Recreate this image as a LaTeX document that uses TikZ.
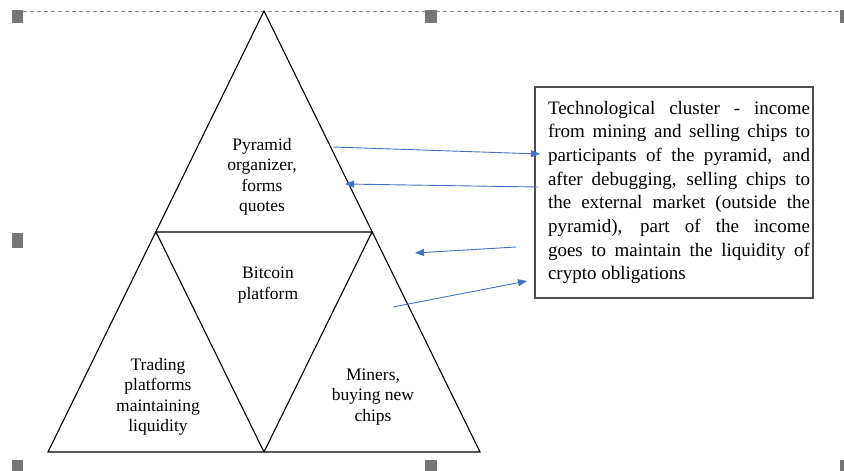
\documentclass[tikz,border=0pt]{standalone}
\usepackage{fontspec}
\setmainfont{Liberation Serif}
\usetikzlibrary{arrows.meta}
\definecolor{arrowblue}{HTML}{4472C4}
\definecolor{handlegray}{HTML}{767676}
\tikzset{
  tri/.style={draw=black, line width=1.1pt, line join=miter},
  lbl/.style={align=center, font=\fontsize{17.5}{20.5}\selectfont, inner sep=0pt},
  boxtext/.style={draw=black!70, line width=1.3pt, text width=272pt, inner xsep=3pt, inner ysep=0pt,
    minimum width=278pt, minimum height=211pt, align=justify,
    font=\fontsize{19}{23.7}\selectfont},
  conn/.style={arrowblue, line width=0.9pt, -{Triangle[length=9pt,width=7pt]}},
  handle/.style={fill=handlegray, draw=none},
  frame/.style={draw=black!45, dashed, dash pattern=on 4pt off 3pt, line width=0.8pt}
}
\begin{document}
\begin{tikzpicture}[x=1pt,y=-1pt]
\useasboundingbox (0,0) rectangle (844,471);
% selection frame
\draw[frame] (23,11) -- (841,11);
\fill[handle] (12,10) rectangle (23,23);
\fill[handle] (425,10) rectangle (437,23);
\fill[handle] (840,10) rectangle (850,23);
\fill[handle] (12,233) rectangle (23,248);
\fill[handle] (12,460) rectangle (23,475);
\fill[handle] (425,460) rectangle (437,475);
\fill[handle] (840,460) rectangle (850,475);
% pyramid
\coordinate (apex) at (264,11);
\coordinate (bl) at (48,452);
\coordinate (br) at (480,452);
\coordinate (ml) at (156,232);
\coordinate (mr) at (372,232);
\coordinate (mb) at (264,452);
\draw[tri] (apex) -- (bl) -- (br) -- cycle;
\draw[tri] (ml) -- (mr) -- (mb) -- cycle;
% labels
\node[lbl] (org) at (262,177) {Pyramid\\organizer,\\forms\\quotes};
\node[lbl] (btc) at (268,285) {Bitcoin\\platform};
\node[lbl] (trd) at (158,397) {Trading\\platforms\\maintaining\\liquidity};
\node[lbl] (min) at (373,397) {Miners,\\buying new\\chips};
% box
\node[boxtext] (box) at (674,192.5)
{\leftskip=10pt\tolerance=10000\hyphenpenalty=10000\emergencystretch=20pt
Technological cluster - income\linebreak
from mining and selling chips to\linebreak
participants of the pyramid, and\linebreak
after debugging, selling chips to\linebreak
the external market (outside the\linebreak
pyramid), part of the income\linebreak
goes to maintain the liquidity of\linebreak
crypto obligations\par};
% arrows
\coordinate (a1s) at (333,147);
\coordinate (a1e) at (540,154);
\coordinate (a2s) at (538,187);
\coordinate (a2e) at (345,184);
\coordinate (a3s) at (516,247);
\coordinate (a3e) at (415,253);
\coordinate (a4s) at (393,307);
\coordinate (a4e) at (527,281);
\draw[conn] (a1s) -- (a1e);
\draw[conn] (a2s) -- (a2e);
\draw[conn] (a3s) -- (a3e);
\draw[conn] (a4s) -- (a4e);
\end{tikzpicture}
\end{document}
